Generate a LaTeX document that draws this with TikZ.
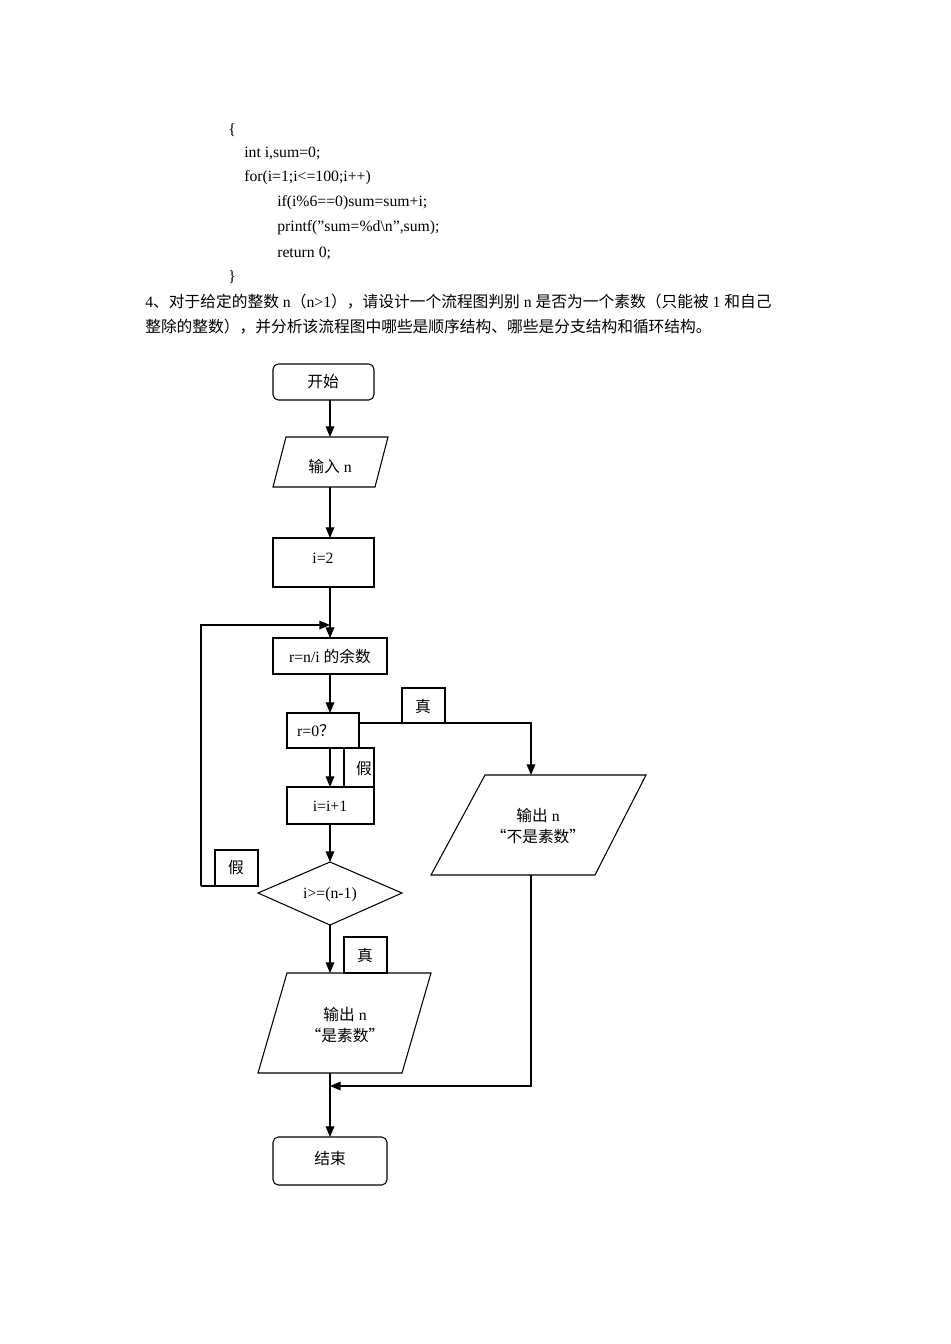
\documentclass[tikz,border=0pt]{standalone}
\usepackage{fontspec}
\setmainfont{Liberation Serif}
\newfontfamily\cjk{Noto Sans CJK SC}
\usetikzlibrary{arrows.meta,shapes.geometric}
\begin{document}
\begin{tikzpicture}[x=0.75pt,y=-0.75pt,
  every node/.style={font=\fontsize{11.8}{16}\selectfont},
  line/.style={line width=0.9pt},
  arr/.style={line width=0.9pt,-{Triangle[length=8pt,width=6.5pt]}},
  box/.style={draw,line width=0.8pt},
  txt/.style={anchor=west,inner sep=0pt}]
\useasboundingbox (0,0) rectangle (950,1344);
% text
\node[txt] (t1) at (228,130) {\{};
\node[txt] (t2) at (244,153) {int i,sum=0;};
\node[txt] (t3) at (244,178) {for(i=1;i<=100;i++)};
\node[txt] (t4) at (277,203) {if(i\%6==0)sum=sum+i;};
\node[txt] (t5) at (277,228) {printf(\symbol{34}sum=\%d\textbackslash n\symbol{34},sum);};
\node[txt] (t6) at (277,253) {return 0;};
\node[txt] (t7) at (228,277) {\}};
\node[txt] (q1) at (145,302) {4{\cjk 、对于给定的整数} n{\cjk （}n>1{\cjk ），请设计一个流程图判别} n {\cjk 是否为一个素数（只能被} 1 {\cjk 和自己}};
\node[txt] (q2) at (145,327) {{\cjk 整除的整数），并分析该流程图中哪些是顺序结构、哪些是分支结构和循环结构。}};
% shapes
\draw[box,rounded corners=4pt] (273,364) rectangle (374,400);
\node (start) at (323,382) {\cjk 开始};
\draw[box] (286,437) -- (388,437) -- (375,487) -- (273,487) -- cycle;
\node (in) at (330,466) {{\cjk 输入} n};
\draw[box] (273,538) rectangle (374,587);
\node (i2) at (323,558) {i=2};
\draw[box] (273,638) rectangle (387,674);
\node (r) at (330,656) {r=n/i {\cjk 的余数}};
\draw[box] (287,713) rectangle (359,748);
\node (r0) at (316,731) {r=0{\cjk ？}};
\draw[box] (402,688) rectangle (445,723);
\node (t1b) at (423,706) {\cjk 真};
\draw[box] (344,748) rectangle (374,787);
\node (f1) at (364,769) {\cjk 假};
\draw[box] (287,787) rectangle (374,824);
\node (inc) at (330,806) {i=i+1};
\draw[box] (330,862) -- (402,893) -- (330,925) -- (258,893) -- cycle;
\node (dec) at (330,895) {i>=(n-1)};
\draw[box] (215,850) rectangle (258,886);
\node (f2) at (236,868) {\cjk 假};
\draw[box] (485,775) -- (646,775) -- (595,875) -- (431,875) -- cycle;
\node[align=center] (np) at (538,826) {{\cjk 输出} n\\{\cjk “不是素数”}};
\draw[box] (344,937) rectangle (387,973);
\node (t2b) at (365,955) {\cjk 真};
\draw[box] (287,973) -- (431,973) -- (402,1073) -- (258,1073) -- cycle;
\node[align=center] (p) at (345,1025) {{\cjk 输出} n\\{\cjk “是素数”}};
\draw[box,rounded corners=4pt] (273,1137) rectangle (387,1185);
\node (end) at (330,1158) {\cjk 结束};
% connectors
\coordinate (a1) at (330,400); \coordinate (a2) at (330,437);
\draw[arr] (a1) -- (a2);
\draw[arr] (330,487) -- (330,538);
\draw[arr] (330,587) -- (330,638);
\draw[arr] (201,886) -- (201,625) -- (330,625);
\draw[line] (201,886) -- (258,886);
\draw[arr] (330,674) -- (330,713);
\draw[arr] (359,723) -- (531,723) -- (531,775);
\draw[arr] (330,748) -- (330,787);
\draw[arr] (330,824) -- (330,862);
\draw[arr] (330,925) -- (330,973);
\draw[arr] (531,875) -- (531,1086) -- (330,1086);
\draw[arr] (330,1073) -- (330,1137);
\end{tikzpicture}
\end{document}
